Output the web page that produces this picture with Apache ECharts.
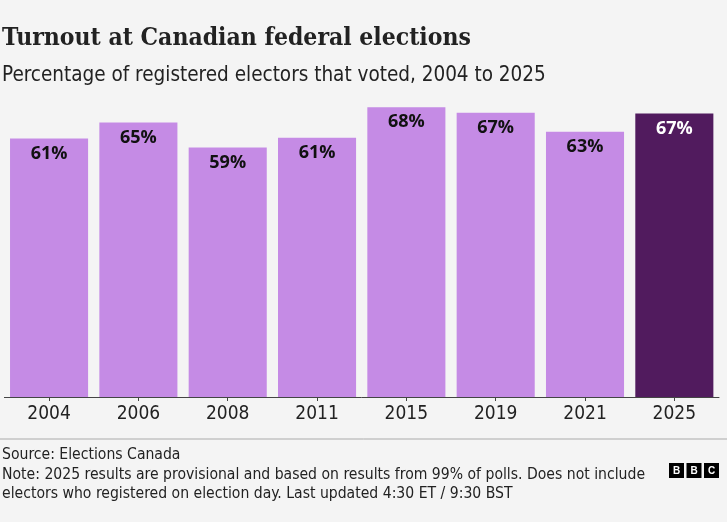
<!DOCTYPE html>
<html><head><meta charset="utf-8">
<script src="https://cdn.jsdelivr.net/npm/echarts@6/dist/echarts.min.js"></script>
<style>html,body{margin:0;padding:0;background:#f4f4f4}#c{width:727px;height:522px}</style>
</head><body><div id="c"></div>
<script>
const categories = ['2004','2006','2008','2011','2015','2019','2021','2025'];
const turnout = [60.9, 64.7, 58.8, 61.1, 68.3, 67.0, 62.5, 66.8];
const highlightIndex = 7;

const chart = echarts.init(document.getElementById('c'));
const sans = '"Liberation Sans Narrow","DejaVu Sans Condensed","Liberation Sans",sans-serif';
chart.setOption({
  backgroundColor: '#f4f4f4',
  animation: false,
  title: [
    {text: 'Turnout at Canadian federal elections', left: 0, top: 21, padding: [5, 2, 5, 2],
     textStyle: {fontFamily: '"DejaVu Serif Condensed","DejaVu Serif",serif', fontWeight: 'bold', fontSize: 24.5, color: '#222'}},
    {text: 'Percentage of registered electors that voted, 2004 to 2025', left: 0, top: 60, padding: [5, 2, 5, 2],
     textStyle: {fontFamily: sans, fontWeight: 'normal', fontSize: 20.5, color: '#222'}}
  ],
  grid: {left: 4.4, right: 8, top: 100, bottom: 125, containLabel: false},
  xAxis: {
    type: 'category', data: categories,
    axisLine: {lineStyle: {color: '#444', width: 1}},
    axisTick: {show: true, alignWithLabel: true, length: 4, lineStyle: {color: '#444'}},
    axisLabel: {fontFamily: sans, fontSize: 19, color: '#222', margin: 8}
  },
  yAxis: {type: 'value', min: 0, max: 70, show: false, splitLine: {show: false}},
  series: [{
    type: 'bar', barCategoryGap: '12.6%',
    data: turnout.map((v, i) => ({value: v, itemStyle: {color: i === highlightIndex ? '#511b5e' : '#c58be5'},
      label: {color: i === highlightIndex ? '#fff' : '#111'}})),
    label: {show: true, position: 'insideTop', distance: 6,
      formatter: p => Math.round(p.value) + '%',
      fontFamily: '"Open Sans","Noto Sans",sans-serif', fontWeight: 'bold', fontSize: 18}
  }],
  graphic: [
    {type: 'line', shape: {x1: 0, y1: 439, x2: 727, y2: 439}, style: {stroke: '#aaa', lineWidth: 1}},
    {type: 'text', left: 2, top: 447, style: {text: 'Source: Elections Canada', font: '15.6px ' + sans, fill: '#222'}},
    {type: 'text', left: 2, top: 467, style: {text: 'Note: 2025 results are provisional and based on results from 99% of polls. Does not include', font: '15.6px ' + sans, fill: '#222'}},
    {type: 'text', left: 2, top: 486, style: {text: 'electors who registered on election day. Last updated 4:30 ET / 9:30 BST', font: '15.6px ' + sans, fill: '#222'}},
    ...[0,1,2].map(k => ({type: 'group', left: 669 + k * 17.5, top: 463, children: [
      {type: 'rect', shape: {x: 0, y: 0, width: 15, height: 15}, style: {fill: '#000'}},
      {type: 'text', style: {text: 'BBC'[k], x: 7.5, y: 7.8, align: 'center', verticalAlign: 'middle', font: 'bold 10px "Liberation Sans",sans-serif', fill: '#fff'}}
    ]}))
  ]
});
</script></body></html>
